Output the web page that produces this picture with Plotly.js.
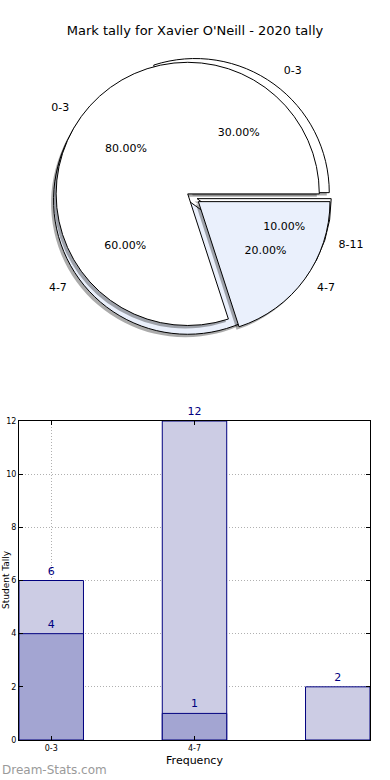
<!DOCTYPE html>
<html>
<head>
<meta charset="utf-8">
<script src="https://cdn.plot.ly/plotly-3.0.1.min.js"></script>
<style>html,body{margin:0;padding:0;background:#fff;}#chart{width:390px;height:780px;}</style>
</head>
<body>
<div id="chart"></div>
<script>
// ---- data ----
const chartTitle = "Mark tally for Xavier O'Neill - 2020 tally";
const categories = ['0-3', '4-7', '8-11'];
const allCounts = [6, 12, 2];          // light bars / back pie
const highCounts = [4, 1];             // dark bars / front pie
const highCategories = ['0-3', '4-7'];
const tickLabels = ['0-3', '4-7'];
const yTicks = [0, 2, 4, 6, 8, 10, 12];
const xTitle = 'Frequency';
const yTitle = 'Student Tally';
const watermark = 'Dream-Stats.com';

// ---- styles ----
const FONT = 'DejaVu Sans, sans-serif';
const pieColorsB = ['#ffffff', '#eaf0fc', '#ffffff'];
const pieColorsA = ['#ffffff', '#eaf0fc'];
const lightBar = '#cccce4';
const darkBar = '#a3a5d2';
const edge = '#00007f';

const pullB = [0.04, 0.04, 0.04];
const pullA = [0.04, 0.06];
// radial scale of each slice's percentage text (per slice)
const pctScaleB = [1.0, 1.14, 0.9];
const pctScaleA = [1.15, 1.0];
const dom = {x: [0.0954, 0.8903], y: [0.5453, 0.9223]};
const sdx = 0.007, sdy = 0.004;
const shadowDom = {x: [dom.x[0] - sdx, dom.x[1] - sdx], y: [dom.y[0] - sdy, dom.y[1] - sdy]};
function scaleDom(d, k) {
  const cx = (d.x[0] + d.x[1]) / 2, cy = (d.y[0] + d.y[1]) / 2;
  const hx = (d.x[1] - d.x[0]) / 2 * k, hy = (d.y[1] - d.y[0]) / 2 * k;
  return {x: [cx - hx, cx + hx], y: [cy - hy, cy + hy]};
}

// first slice starts at 3 o'clock and runs counterclockwise (matplotlib style)
function startRot(values) {
  const tot = values.reduce((a, b) => a + b, 0);
  return 90 - 360 * values[0] / tot;
}

function pie(labels, values, colors, pull, domain, opts) {
  return Object.assign({
    type: 'pie', labels: labels, values: values, sort: false,
    direction: 'counterclockwise', rotation: startRot(values), pull: pull, domain: domain,
    marker: {colors: colors, line: {color: '#000', width: 1}},
    showlegend: false, hoverinfo: 'label+percent', textinfo: 'none'
  }, opts);
}
const clear = n => Array(n).fill('rgba(0,0,0,0)');
const shade = n => Array(n).fill('rgba(0,0,0,0.33)');
// one transparent overlay per slice so each percentage can sit at its own radius
function pctOverlays(labels, values, pull, scales) {
  return labels.map((lab, j) => pie(labels, values, clear(labels.length), pull, scaleDom(dom, scales[j]), {
    texttemplate: labels.map((l, i) => i === j ? '%{percent:.2%}' : ''),
    textposition: 'inside', insidetextorientation: 'horizontal',
    insidetextfont: {family: FONT, size: 11, color: '#000'},
    marker: {colors: clear(labels.length), line: {width: 0}}, hoverinfo: 'skip'}));
}
function labelOverlay(labels, values, pull, d) {
  return pie(labels, values, clear(labels.length), pull, d, {
    textinfo: 'label', textposition: 'outside', outsidetextfont: {family: FONT, size: 11, color: '#000'},
    marker: {colors: clear(labels.length), line: {width: 0}}, hoverinfo: 'skip'});
}

const traces = [
  pie(categories, allCounts, shade(3), pullB, shadowDom,
      {marker: {colors: shade(3), line: {width: 0}}, hoverinfo: 'skip'}),
  pie(categories, allCounts, pieColorsB, pullB, dom),
  pie(highCategories, highCounts, shade(2), pullA, shadowDom,
      {marker: {colors: shade(2), line: {width: 0}}, hoverinfo: 'skip'}),
  pie(highCategories, highCounts, pieColorsA, pullA, dom),
  ...pctOverlays(categories, allCounts, pullB, pctScaleB),
  ...pctOverlays(highCategories, highCounts, pullA, pctScaleA),
  labelOverlay(categories, allCounts, pullB, scaleDom(dom, 1.08)),
  labelOverlay(highCategories, highCounts, pullA, scaleDom(dom, 1.08)),
  {type: 'bar', x: categories.map((c, i) => i), y: allCounts, width: 0.45,
   marker: {color: lightBar, line: {color: edge, width: 1}},
   text: allCounts.map(String), textposition: 'outside', cliponaxis: false,
   textfont: {family: FONT, size: 11, color: edge}, showlegend: false,
   xaxis: 'x', yaxis: 'y', hovertemplate: '%{y}<extra></extra>'},
  {type: 'bar', x: highCategories.map((c, i) => i), y: highCounts, width: 0.45,
   marker: {color: darkBar, line: {color: edge, width: 1}},
   text: highCounts.map(String), textposition: 'outside', cliponaxis: false,
   textfont: {family: FONT, size: 11, color: edge}, showlegend: false,
   xaxis: 'x', yaxis: 'y', hovertemplate: '%{y}<extra></extra>'}
];

const axisCommon = {
  ticks: 'inside', ticklen: 4, tickcolor: '#000', mirror: 'ticks', showline: true, linecolor: '#000', linewidth: 1,
  showgrid: true, gridcolor: '#b0b0b0', griddash: '1px,2px', gridwidth: 1, zeroline: false,
  tickfont: {family: FONT, size: 8, color: '#000'}, automargin: false
};

const layout = {
  width: 390, height: 780,
  margin: {l: 19, r: 20, t: 0, b: 40},
  paper_bgcolor: '#fff', plot_bgcolor: '#fff',
  font: {family: FONT, color: '#000'},
  title: {text: chartTitle, font: {family: FONT, size: 13, color: '#000'},
          x: 0.5, xanchor: 'center', y: 1 - 30 / 780, yanchor: 'middle', yref: 'container'},
  barmode: 'overlay',
  xaxis: Object.assign({}, axisCommon, {domain: [0, 1], range: [-0.225, 2.225],
          tickvals: tickLabels.map((t, i) => i), ticktext: tickLabels,
          title: {text: xTitle, font: {family: FONT, size: 11, color: '#000'}, standoff: 4}}),
  yaxis: Object.assign({}, axisCommon, {domain: [0, (740 - 421) / 740], range: [0, 12], tickvals: yTicks}),
  annotations: [
    {text: watermark, xref: 'paper', yref: 'paper', x: -19 / 351, y: -30 / 740,
     xanchor: 'left', yanchor: 'middle', showarrow: false,
     font: {family: FONT, size: 12, color: '#9a9a9a'}},
    {text: yTitle, xref: 'paper', yref: 'paper', x: -19 / 351, y: 160 / 740, textangle: -90,
     xanchor: 'left', yanchor: 'middle', showarrow: false, borderpad: 0,
     font: {family: FONT, size: 9, color: '#000'}}
  ]
};

Plotly.newPlot('chart', traces, layout, {displayModeBar: false, staticPlot: true});
</script>
</body>
</html>
